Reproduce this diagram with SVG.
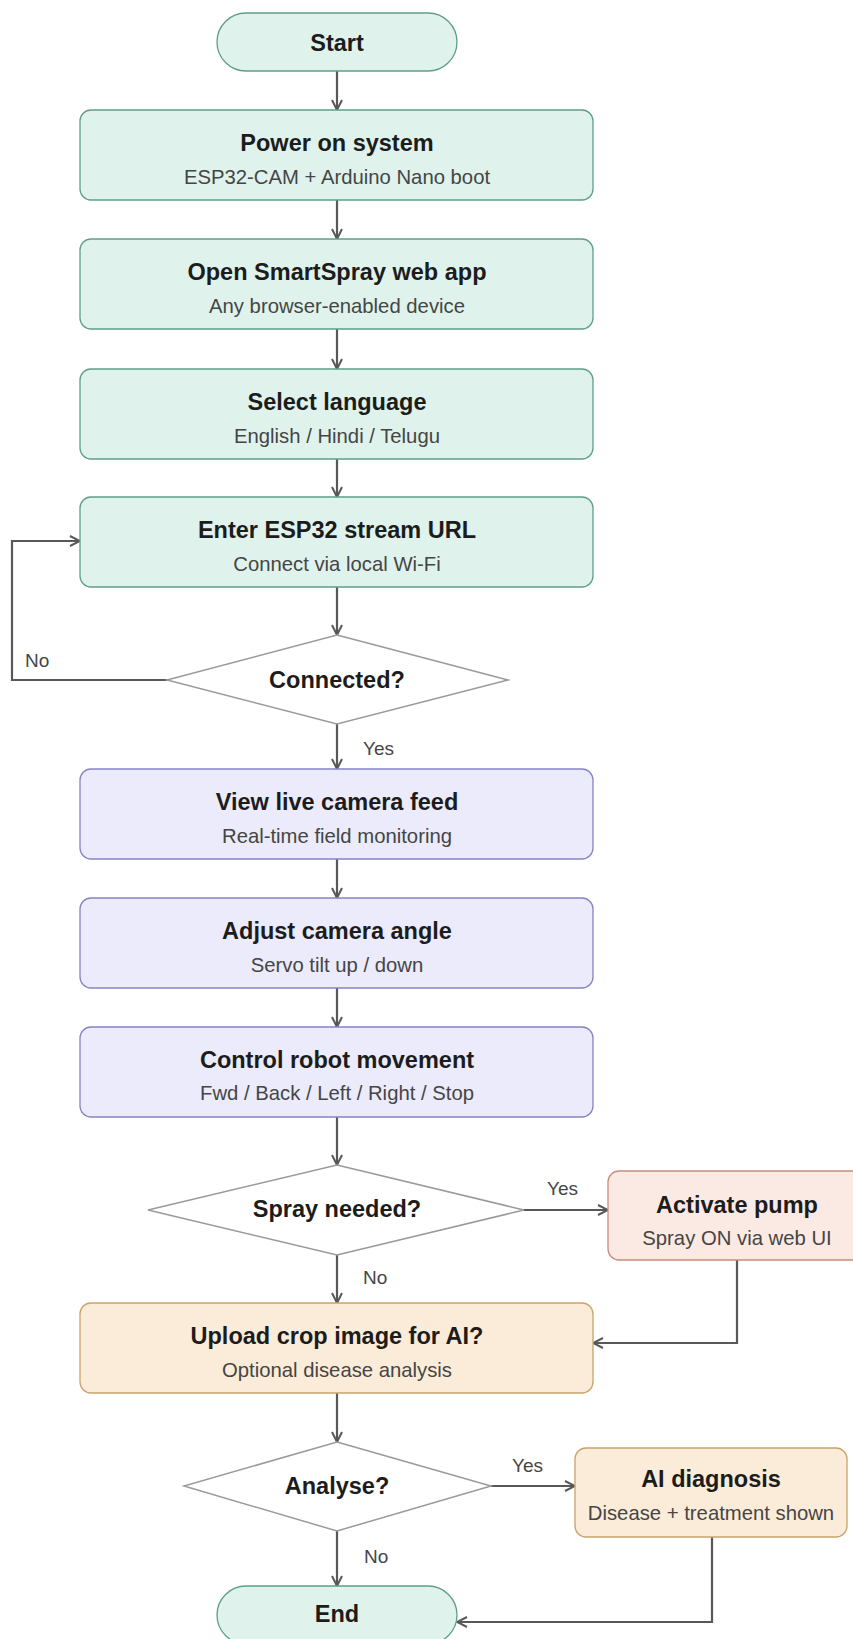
<svg xmlns="http://www.w3.org/2000/svg" width="853" height="1639" viewBox="0 0 853 1639">
<defs>
<style>
.t{font-family:"Liberation Sans",Arial,sans-serif;font-weight:bold;font-size:23.5px;fill:#1c1c1c;text-anchor:middle}
.s{font-family:"Liberation Sans",Arial,sans-serif;font-size:20.3px;fill:#454545;text-anchor:middle}
.l{font-family:"Liberation Sans",Arial,sans-serif;font-size:19px;fill:#454545}
.g{fill:#dff3ec;stroke:#5f9f87;stroke-width:1.3}
.p{fill:#ebebfb;stroke:#8684c6;stroke-width:1.3}
.r{fill:#fbe9e3;stroke:#c98c7c;stroke-width:1.3}
.o{fill:#fbecd9;stroke:#c9a36b;stroke-width:1.3}
.d{fill:#ffffff;stroke:#9a9a9a;stroke-width:1.5}
.c{fill:none;stroke:#585858;stroke-width:2.2;marker-end:url(#ah)}
</style>
<marker id="ah" viewBox="0 0 12 12" refX="11" refY="6" markerWidth="12" markerHeight="12" markerUnits="userSpaceOnUse" orient="auto">
<path d="M1,1 L11,6 L1,11" fill="none" stroke="#585858" stroke-width="2"/>
</marker>
</defs>
<g id="connectors">
<path class="c" d="M337,71 V110"/>
<path class="c" d="M337,200 V239"/>
<path class="c" d="M337,329 V369"/>
<path class="c" d="M337,459 V497"/>
<path class="c" d="M337,587 V635"/>
<path class="c" d="M167,680 H12 V541 H80"/>
<path class="c" d="M337,724 V769"/>
<path class="c" d="M337,859 V898"/>
<path class="c" d="M337,988 V1027"/>
<path class="c" d="M337,1117 V1165"/>
<path class="c" d="M524,1210 H608"/>
<path class="c" d="M337,1255 V1303"/>
<path class="c" d="M737,1260 V1343 H593"/>
<path class="c" d="M337,1393 V1442"/>
<path class="c" d="M491,1486 H575"/>
<path class="c" d="M337,1531 V1586"/>
<path class="c" d="M712,1537 V1622 H457"/>
<text class="l" x="25" y="667">No</text>
<text class="l" x="363" y="755">Yes</text>
<text class="l" x="547" y="1195">Yes</text>
<text class="l" x="363" y="1284">No</text>
<text class="l" x="512" y="1472">Yes</text>
<text class="l" x="364" y="1563">No</text>
</g>
<g id="start"><rect class="g" x="217" y="13" width="240" height="58" rx="29"/><text class="t" x="337" y="51">Start</text></g>
<g id="power"><rect class="g" x="80" y="110" width="513" height="90" rx="11"/><text class="t" x="337" y="151">Power on system</text><text class="s" x="337" y="184">ESP32-CAM + Arduino Nano boot</text></g>
<g id="open"><rect class="g" x="80" y="239" width="513" height="90" rx="11"/><text class="t" x="337" y="280">Open SmartSpray web app</text><text class="s" x="337" y="313">Any browser-enabled device</text></g>
<g id="lang"><rect class="g" x="80" y="369" width="513" height="90" rx="11"/><text class="t" x="337" y="410">Select language</text><text class="s" x="337" y="443">English / Hindi / Telugu</text></g>
<g id="url"><rect class="g" x="80" y="497" width="513" height="90" rx="11"/><text class="t" x="337" y="538">Enter ESP32 stream URL</text><text class="s" x="337" y="571">Connect via local Wi-Fi</text></g>
<g id="connected"><polygon class="d" points="337,635 508,680 337,724 167,680"/><text class="t" x="337" y="688">Connected?</text></g>
<g id="view"><rect class="p" x="80" y="769" width="513" height="90" rx="11"/><text class="t" x="337" y="810">View live camera feed</text><text class="s" x="337" y="843">Real-time field monitoring</text></g>
<g id="adjust"><rect class="p" x="80" y="898" width="513" height="90" rx="11"/><text class="t" x="337" y="939">Adjust camera angle</text><text class="s" x="337" y="972">Servo tilt up / down</text></g>
<g id="control"><rect class="p" x="80" y="1027" width="513" height="90" rx="11"/><text class="t" x="337" y="1068">Control robot movement</text><text class="s" x="337" y="1100">Fwd / Back / Left / Right / Stop</text></g>
<g id="spray"><polygon class="d" points="337,1165 524,1210 337,1255 148,1210"/><text class="t" x="337" y="1217">Spray needed?</text></g>
<g id="pump"><rect class="r" x="608" y="1171" width="258" height="89" rx="11"/><text class="t" x="737" y="1213">Activate pump</text><text class="s" x="737" y="1245">Spray ON via web UI</text></g>
<g id="upload"><rect class="o" x="80" y="1303" width="513" height="90" rx="11"/><text class="t" x="337" y="1344">Upload crop image for AI?</text><text class="s" x="337" y="1377">Optional disease analysis</text></g>
<g id="analyse"><polygon class="d" points="337,1442 491,1486 337,1531 184,1486"/><text class="t" x="337" y="1494">Analyse?</text></g>
<g id="diagnosis"><rect class="o" x="575" y="1448" width="272" height="89" rx="11"/><text class="t" x="711" y="1487">AI diagnosis</text><text class="s" x="711" y="1520">Disease + treatment shown</text></g>
<g id="end"><rect class="g" x="217" y="1586" width="240" height="58" rx="29"/><text class="t" x="337" y="1622">End</text></g>
</svg>
